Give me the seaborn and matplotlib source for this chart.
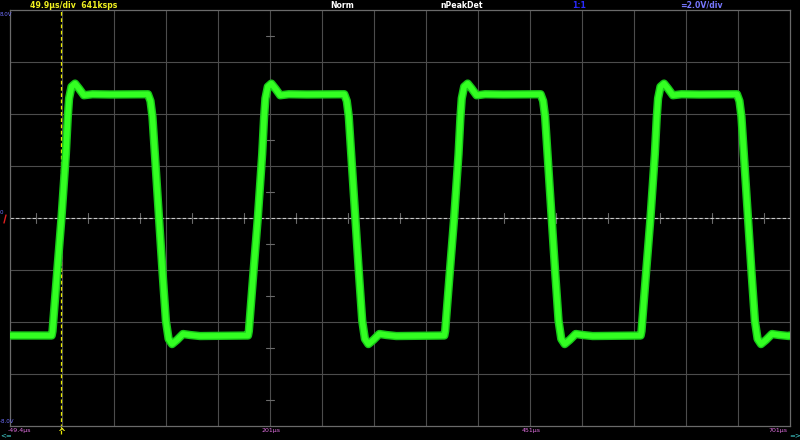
import matplotlib.pyplot as plt
import numpy as np
import pandas as pd
import seaborn as sns

# scope settings
T_LEFT = -49.4      # us
T_DIV = 49.9        # us / div
N_XDIV = 15
V_DIV = 2.0         # V / div
N_YDIV = 8

# rising 0 V crossings of the four pulses (us)
RISE_US = [0.0, 188.4, 376.8, 565.2]
# one pulse, time measured from its rising 0 V crossing (us) and volts
PULSE_T = [-9.4, -8.6, -4.5, 0.0, 4.2, 6.0, 7.3, 9.6, 13.0, 16.8, 21.5, 29.7, 47.0,
           83.0, 85.4, 87.3, 90.0, 93.6, 97.0, 100.2, 102.8, 106.1, 110.9, 116.6, 123.3, 132.9]
PULSE_V = [-4.52, -4.35, -2.25, 0.0, 2.45, 3.85, 4.60, 5.05, 5.17, 4.98, 4.72, 4.76, 4.75,
           4.76, 4.50, 3.90, 2.23, 0.0, -2.10, -3.95, -4.65, -4.85, -4.69, -4.46, -4.50, -4.54]
LOW_V = -4.52

BOTTOM_LABELS = [(-49.4, "-49.4µs"), (201, "201µs"), (451, "451µs"), (701, "701µs")]

# build the trace from the pulse shape
t_all = [T_LEFT]
v_all = [LOW_V]
for r in RISE_US:
    t_all += [r + t for t in PULSE_T]
    v_all += PULSE_V
t_all.append(T_LEFT + N_XDIV * T_DIV)
v_all.append(LOW_V)
trace = pd.DataFrame({"t": t_all, "v": v_all})

sns.set_style("dark", {"axes.facecolor": "black", "figure.facecolor": "black"})
plt.rcParams['font.family'] = ['DejaVu Sans']

W, H = 800, 440
fig = plt.figure(figsize=(8, 4.4), dpi=100, facecolor="black")
ax = fig.add_axes([10 / W, 14 / H, 780 / W, 416 / H])
ax.set_facecolor("black")
t_right = T_LEFT + N_XDIV * T_DIV
ax.set_xlim(T_LEFT, t_right)
ax.set_ylim(-N_YDIV / 2 * V_DIV, N_YDIV / 2 * V_DIV)

grid_col = "#4c4c4c"
for k in range(1, N_XDIV):
    ax.axvline(T_LEFT + k * T_DIV, color=grid_col, lw=0.8, zorder=1)
for k in range(1, N_YDIV):
    ax.axhline(-8 + k * V_DIV, color=grid_col, lw=0.8, zorder=1)
for s in ax.spines.values():
    s.set_color("#6a6a6a")
    s.set_linewidth(0.9)
ax.set_xticks([])
ax.set_yticks([])

# half-division ticks on the 0 V line and on the 201us line
for k in range(N_XDIV):
    tx = T_LEFT + (k + 0.5) * T_DIV
    ax.plot([tx, tx], [-0.2, 0.2], color="#6a6a6a", lw=0.8, zorder=1)
tc = T_LEFT + 5 * T_DIV
for k in range(N_YDIV):
    vy = -8 + (k + 0.5) * V_DIV
    ax.plot([tc - 4, tc + 4], [vy, vy], color="#6a6a6a", lw=0.8, zorder=1)

# ground reference and trigger line
ax.axhline(0, color="#c8c8c8", ls=(0, (3, 2)), lw=0.8, zorder=2)
ax.plot([0, 0], [-8.3, 8], color="#e8e800", ls=(0, (3, 2)), lw=0.9, zorder=2, clip_on=False)

# trace
sns.lineplot(data=trace, x="t", y="v", ax=ax, color="#18c818", lw=6.0,
             estimator=None, sort=False, zorder=3, solid_joinstyle="round")
sns.lineplot(data=trace, x="t", y="v", ax=ax, color="#33ff22", lw=4.0,
             estimator=None, sort=False, zorder=4, solid_joinstyle="round")
ax.set_xlabel("")
ax.set_ylabel("")


def px(x, y, s, **kw):
    fig.text(x / W, 1 - y / H, s, va="center", **kw)


# header
px(30, 5, "49.9µs/div  641ksps", color="#f0f020", fontsize=5.6, fontweight="bold")
px(330, 5, "Norm", color="white", fontsize=5.6, fontweight="bold")
px(440, 5, "nPeakDet", color="white", fontsize=5.6, fontweight="bold")
px(572, 5, "1:1", color="#2a2aff", fontsize=5.6, fontweight="bold")
px(680, 5, "=2.0V/div", color="#7878ff", fontsize=5.6, fontweight="bold")

# left scale
px(0, 14, "8.0V", color="#7070ff", fontsize=4)
px(0, 421, "-8.0V", color="#7070ff", fontsize=4)
px(0, 212, "0", color="#7070ff", fontsize=4)
fig.add_artist(plt.Line2D([4 / W, 6 / W], [1 - 223 / H, 1 - 215 / H], color="#e02020", lw=1.0))

# bottom time labels
for tv, lab in BOTTOM_LABELS:
    xp = 10 + (tv - T_LEFT) / (t_right - T_LEFT) * 780
    if tv == BOTTOM_LABELS[0][0]:
        px(xp - 2, 430, lab, color="#e070e0", fontsize=4.5)
    elif tv == BOTTOM_LABELS[-1][0]:
        px(787, 430, lab, color="#e070e0", fontsize=4.5, ha="right")
    else:
        px(xp, 430, lab, color="#e070e0", fontsize=4.5, ha="center")
px(0, 435, "<=", color="#40d0d0", fontsize=5)
px(789, 435, "=>", color="#40d0d0", fontsize=5)
x_trig = 10 + (0 - T_LEFT) / (t_right - T_LEFT) * 780
px(x_trig, 433, "^", color="#f0f020", fontsize=7, fontweight="bold", ha="center")

fig.savefig("out.png", dpi=100, facecolor="black")
